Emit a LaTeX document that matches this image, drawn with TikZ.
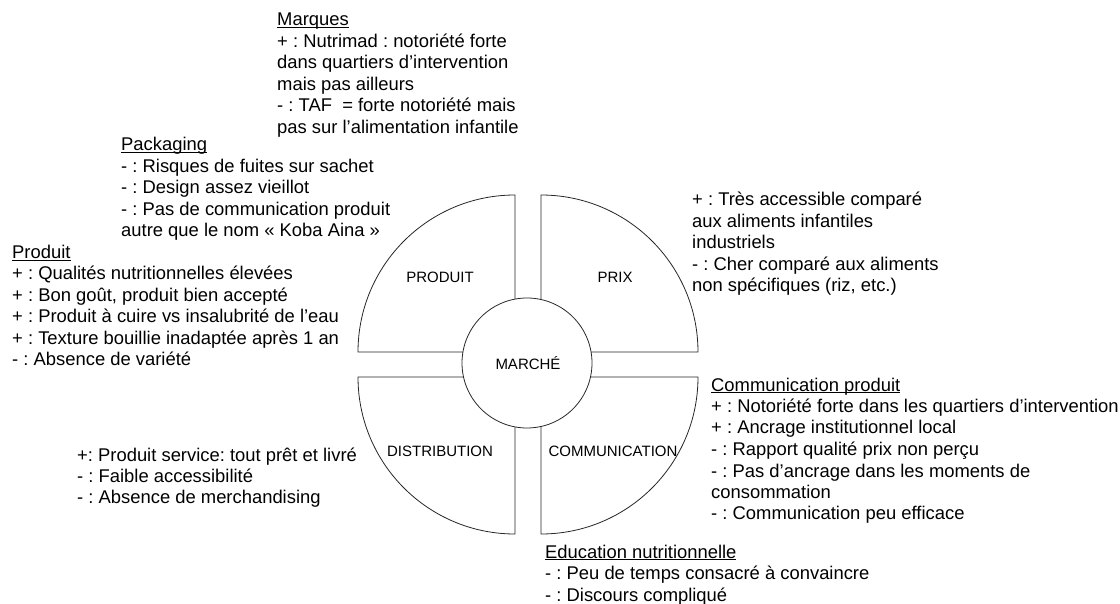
\documentclass[tikz,border=0pt]{standalone}
\usepackage{fontspec}
\setmainfont{Liberation Sans}
\frenchspacing
\newcommand\hdr[1]{\underline{\smash{#1}}}
\begin{document}
\begin{tikzpicture}[x=1pt,y=1pt, line join=round,
	txt/.style={anchor=base west, align=left, inner sep=0pt, font=\fontsize{18.4}{21.5}\selectfont},
	lbl/.style={inner sep=0pt, font=\fontsize{15}{18}\selectfont},
	sector/.style={draw=black!85, line width=0.8pt}]
		\def\R{157} \def\r{65}
		\useasboundingbox (0,0) rectangle (1120,603);
		% four quarters round the market
		\draw[sector] (515,251)--(515-\R,251) arc[start angle=180,end angle=90,radius=\R]--cycle;
		\draw[sector] (541,251)--(541,251+\R) arc[start angle=90,end angle=0,radius=\R]--cycle;
		\draw[sector] (515,226)--(515,226-\R) arc[start angle=270,end angle=180,radius=\R]--cycle;
		\draw[sector] (541,226)--(541+\R,226) arc[start angle=0,end angle=-90,radius=\R]--cycle;
		\draw[sector,fill=white] (527,240) circle (\r);
		\node[lbl] (marche) at (528,240) {MARCHÉ};
		\node[lbl] (produit) at (440,326) {PRODUIT};
		\node[lbl] (prix) at (615,326) {PRIX};
		\node[lbl] (distrib) at (440,152) {DISTRIBUTION};
		\node[lbl] (comm) at (613,152) {COMMUNICATION};
		% comments round the wheel (base = last line)
		\node[txt] (marques) at (277,469.5) {\hdr{Marques}\\
			+ : Nutrimad : notoriété forte\\
			dans quartiers d’intervention\\
			mais pas ailleurs\\
			- : TAF \ = forte notoriété mais\\
			pas sur l’alimentation infantile};
		\node[txt] (packaging) at (121,366) {\hdr{Packaging}\\
			- : Risques de fuites sur sachet\\
			- : Design assez vieillot\\
			- : Pas de communication produit\\
			autre que le nom « Koba Aina »};
		\node[txt] (prodtxt) at (12,237) {\hdr{Produit}\\
			+ : Qualités nutritionnelles élevées\\
			+ : Bon goût, produit bien accepté\\
			+ : Produit à cuire vs insalubrité de l’eau\\
			+ : Texture bouillie inadaptée après 1 an\\
			- : Absence de variété};
		\node[txt] (prixtxt) at (692,311) {+ : Très accessible comparé\\
			aux aliments infantiles\\
			industriels\\
			- : Cher comparé aux aliments\\
			non spécifiques (riz, etc.)};
		\node[txt] (distribtxt) at (77,99) {+: Produit service: tout prêt et livré\\
			- : Faible accessibilité\\
			- : Absence de merchandising};
		\node[txt] (commtxt) at (711,83) {\hdr{Communication produit}\\
			+ : Notoriété forte dans les quartiers d’intervention\\
			+ : Ancrage institutionnel local\\
			- : Rapport qualité prix non perçu\\
			- : Pas d’ancrage dans les moments de\\
			consommation\\
			- : Communication peu efficace};
		\node[txt] (education) at (545,2) {\hdr{Education nutritionnelle}\\
			- : Peu de temps consacré à convaincre\\
			- : Discours compliqué};
	\end{tikzpicture}
\end{document}
